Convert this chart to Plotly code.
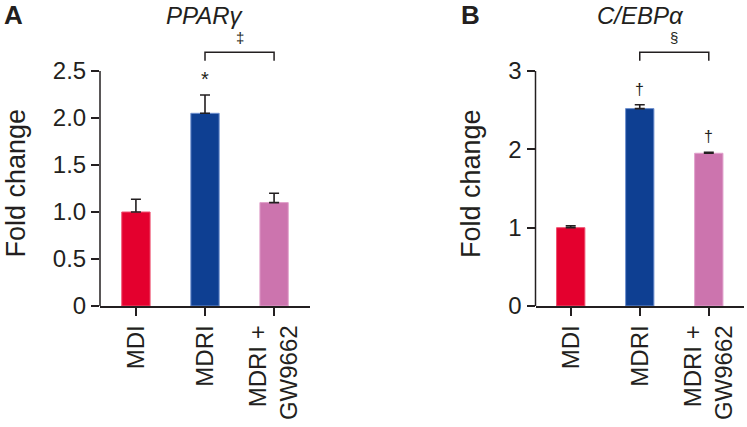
import plotly.graph_objects as go

# ---------------- data ----------------
categories = ["MDI", "MDRI", "MDRI +<br>GW9662"]
ppar_values = [1.00, 2.05, 1.10]
ppar_errors = [0.135, 0.195, 0.10]
cebp_values = [1.00, 2.52, 1.95]
cebp_errors = [0.025, 0.05, 0.012]
bar_colors = ["#E4002E", "#0E3F92", "#CC74AE"]
bar_edges = ["#EE5070", "#6F90CF", "#E0A0CB"]
ppar_ticks = [0, 0.5, 1.0, 1.5, 2.0, 2.5]
ppar_ticktext = ["0", "0.5", "1.0", "1.5", "2.0", "2.5"]
cebp_ticks = [0, 1, 2, 3]
cebp_ticktext = ["0", "1", "2", "3"]

# significance marks (level in data units)
ppar_star = [("*", 1, 2.42)]
ppar_bracket = (1, 2, 2.61, 2.70, "\u2021", 2.86)
cebp_star = [("\u2020", 1, 2.77), ("\u2020", 2, 2.17)]
cebp_bracket = (1, 2, 3.13, 3.24, "\u00a7", 3.43)

FONT = "Liberation Sans, Arial, Helvetica, sans-serif"
INK = "#231F20"
W, H = 747, 427

fig = go.Figure()

def add_panel(values, errors, xa, ya):
    fig.add_trace(go.Bar(
        x=categories, y=values, width=0.41,
        marker=dict(color=bar_colors, line=dict(color=bar_edges, width=1)),
        error_y=dict(type="data", array=errors, arrayminus=[0] * len(errors),
                     symmetric=False, color=INK, thickness=1.6, width=5),
        xaxis=xa, yaxis=ya, showlegend=False,
    ))

add_panel(ppar_values, ppar_errors, "x", "y")
add_panel(cebp_values, cebp_errors, "x2", "y2")

axis_common = dict(
    showgrid=False, zeroline=False, ticks="outside", ticklen=8, tickwidth=1.5,
    tickcolor=INK, tickfont=dict(family=FONT, size=24, color=INK),
)

fig.update_layout(
    width=W, height=H,
    margin=dict(l=0, r=0, t=24, b=121),
    plot_bgcolor="white", paper_bgcolor="white",
    bargap=0.5,
    xaxis=dict(domain=[100 / W, 310 / W], range=[-0.52, 2.52], showline=True,
               linecolor=INK, linewidth=1.5, tickangle=-90, anchor="y",
               automargin=False, **axis_common),
    yaxis=dict(domain=[0, 1], range=[0, 3.0], tickvals=ppar_ticks,
               ticktext=ppar_ticktext, showline=False, anchor="x",
               automargin=False, **axis_common),
    xaxis2=dict(domain=[535.5 / W, 744 / W], range=[-0.51, 2.51], showline=True,
                linecolor=INK, linewidth=1.5, tickangle=-90, anchor="y2",
                automargin=False, **axis_common),
    yaxis2=dict(domain=[0, 1], range=[0, 3.6], tickvals=cebp_ticks,
                ticktext=cebp_ticktext, showline=False, anchor="x2",
                automargin=False, **axis_common),
)

# y spines limited to the tick range
for xr, yr, top in [("x domain", "y", ppar_ticks[-1]), ("x2 domain", "y2", cebp_ticks[-1])]:
    fig.add_shape(type="line", xref=xr, yref=yr, x0=0, x1=0, y0=0, y1=top,
                  line=dict(color=INK, width=1.5))

def add_bracket(br, xr, yr):
    x0, x1, ylo, yhi, sym, ysym = br
    fig.add_shape(type="path", xref=xr, yref=yr,
                  path=f"M {x0},{ylo} L {x0},{yhi} L {x1},{yhi} L {x1},{ylo}",
                  line=dict(color=INK, width=1.5))
    fig.add_annotation(x=(x0 + x1) / 2, y=ysym, xref=xr, yref=yr, text=sym,
                       showarrow=False, xanchor="center", yanchor="middle",
                       font=dict(family=FONT, size=15, color=INK))

add_bracket(ppar_bracket, "x", "y")
add_bracket(cebp_bracket, "x2", "y2")

for sym, xi, yv in ppar_star:
    fig.add_annotation(x=xi, y=yv, xref="x", yref="y", text=sym, showarrow=False,
                       xanchor="center", yanchor="middle",
                       font=dict(family=FONT, size=20, color=INK))
for sym, xi, yv in cebp_star:
    fig.add_annotation(x=xi, y=yv, xref="x2", yref="y2", text=sym, showarrow=False,
                       xanchor="center", yanchor="middle",
                       font=dict(family=FONT, size=16, color=INK))

def px_y(p):
    return (306 - p) / 282

# axis titles
for xc in [15.5, 471]:
    fig.add_annotation(x=xc / W, y=px_y(183), xref="paper", yref="paper",
                       text="Fold change", textangle=-90, showarrow=False,
                       xanchor="center", yanchor="middle",
                       font=dict(family=FONT, size=27, color=INK))

# panel titles and letters
for text, xc, size in [("<i>PPAR\u03b3</i>", 205, 24), ("<i>C/EBP\u03b1</i>", 640, 24),
                       ("<b>A</b>", 13, 26), ("<b>B</b>", 470, 26)]:
    fig.add_annotation(x=xc / W, y=px_y(15), xref="paper", yref="paper",
                       text=text, showarrow=False, xanchor="center", yanchor="middle",
                       font=dict(family=FONT, size=size, color=INK))

fig.write_html("out.html", config={"displayModeBar": False},
               post_script="document.body.style.margin='0';document.body.style.padding='0';")
